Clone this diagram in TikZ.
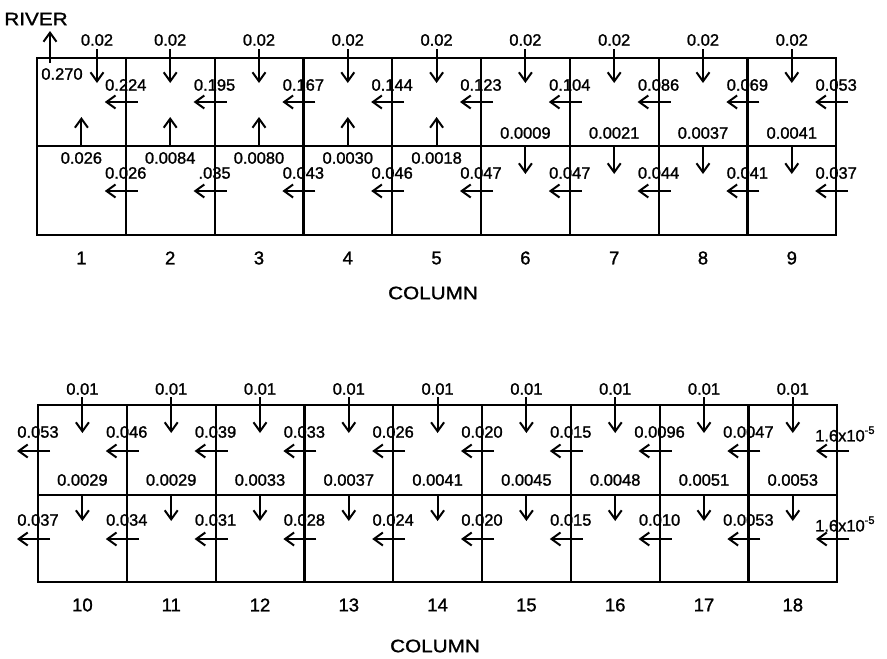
\documentclass[tikz,border=0pt]{standalone}
\usepackage{fontspec}
\setmainfont{Liberation Sans}
\font\numfnt="Liberation Sans:embolden=1.3" at 16.5pt
\font\colfnt="Liberation Sans:embolden=1.3" at 18.5pt
\font\ttlfnt="Liberation Sans:embolden=1.3" at 18pt
\font\supfnt="Liberation Sans:embolden=1.3" at 11pt
\usetikzlibrary{arrows.meta}
\begin{document}
\begin{tikzpicture}[x=1pt,y=-1pt,
  grid/.style={line width=2.2pt},
  flow/.style={line width=2pt,-{Straight Barb[length=9pt,width=13pt,line width=2pt]}},
  lab/.style={font=\numfnt, inner sep=0pt},
  colnum/.style={font=\colfnt, inner sep=0pt},
  ttl/.style={font=\ttlfnt, inner sep=0pt, xscale=1.15}]
\useasboundingbox[fill=white] (0,0) rectangle (887,659);

% ---------------- upper grid (columns 1-9) ----------------
\draw[grid] (37,58) rectangle (836.2,235);
\draw[grid] (37,146) -- (836.2,146);
\foreach \k in {1,...,8} \draw[grid] ({37+\k*88.8},58) -- ({37+\k*88.8},235);

% river
\node[ttl] (river) at (36,19) {RIVER};
\coordinate (rv1) at (50,63);
\coordinate (rv2) at (50,31);
\draw[flow] (rv1) -- (rv2);
\node[lab] (rvl) at (62,74) {0.270};

% recharge arrows top
\coordinate (ua1) at (97,49);
\coordinate (ub1) at (97,83);
\draw[flow] (ua1) -- (ub1);
\node[lab] (ul1) at (97,40) {0.02};
\foreach \c in {2,...,9} {
  \coordinate (ua\c) at ({37+(\c-0.5)*88.8},49);
  \coordinate (ub\c) at ({37+(\c-0.5)*88.8},83);
  \draw[flow] (ua\c) -- (ub\c);
  \node[lab] (ul\c) at ({37+(\c-0.5)*88.8},40) {0.02};
}

% horizontal flows, upper layer
\foreach \k/\v in {1/0.224,2/0.195,3/0.167,4/0.144,5/0.123,6/0.104,7/0.086,8/0.069,9/0.053} {
  \coordinate (ha\k) at ({37+\k*88.8+12},102);
  \coordinate (hb\k) at ({37+\k*88.8-21},102);
  \draw[flow] (ha\k) -- (hb\k);
  \node[lab] (hl\k) at ({37+\k*88.8},85) {\v};
}
% horizontal flows, lower layer
\foreach \k/\v in {1/0.026,2/.035,3/0.043,4/0.046,5/0.047,6/0.047,7/0.044,8/0.041,9/0.037} {
  \coordinate (la\k) at ({37+\k*88.8+12},191);
  \coordinate (lb\k) at ({37+\k*88.8-21},191);
  \draw[flow] (la\k) -- (lb\k);
  \node[lab] (ll\k) at ({37+\k*88.8},173) {\v};
}
% vertical leakage up (cols 1-5)
\foreach \c/\v in {1/0.026,2/0.0084,3/0.0080,4/0.0030,5/0.0018} {
  \coordinate (va\c) at ({37+(\c-0.5)*88.8},147);
  \coordinate (vb\c) at ({37+(\c-0.5)*88.8},117);
  \draw[flow] (va\c) -- (vb\c);
  \node[lab] (vl\c) at ({37+(\c-0.5)*88.8},158) {\v};
}
% vertical leakage down (cols 6-9)
\foreach \c/\v in {6/0.0009,7/0.0021,8/0.0037,9/0.0041} {
  \coordinate (va\c) at ({37+(\c-0.5)*88.8},145);
  \coordinate (vb\c) at ({37+(\c-0.5)*88.8},174);
  \draw[flow] (va\c) -- (vb\c);
  \node[lab] (vl\c) at ({37+(\c-0.5)*88.8},133) {\v};
}
\foreach \c in {1,...,9}
  \node[colnum] (cn\c) at ({37+(\c-0.5)*88.8},258) {\c};
\node[ttl] (col1) at (433,293) {COLUMN};

% ---------------- lower grid (columns 10-18) ----------------
\draw[grid] (38,405) rectangle (837.2,582);
\draw[grid] (38,495) -- (837.2,495);
\foreach \k in {1,...,8} \draw[grid] ({38+\k*88.8},405) -- ({38+\k*88.8},582);

\foreach \c in {1,...,9} {
  \coordinate (da\c) at ({38+(\c-0.5)*88.8},397);
  \coordinate (db\c) at ({38+(\c-0.5)*88.8},433);
  \draw[flow] (da\c) -- (db\c);
  \node[lab] (dl\c) at ({38+(\c-0.5)*88.8},389) {0.01};
}
\foreach \k/\v in {0/0.053,1/0.046,2/0.039,3/0.033,4/0.026,5/0.020,6/0.015,7/0.0096,8/0.0047} {
  \coordinate (pa\k) at ({38+\k*88.8+12},451);
  \coordinate (pb\k) at ({38+\k*88.8-21},451);
  \draw[flow] (pa\k) -- (pb\k);
  \node[lab] (pl\k) at ({38+\k*88.8},432) {\v};
}
\coordinate (pa9) at (849,451);
\coordinate (pb9) at (816,451);
\draw[flow] (pa9) -- (pb9);
\node[lab,anchor=west] (pl9) at (815,434) {1.6x10\raisebox{0.45em}{\supfnt -5}};

\foreach \k/\v in {0/0.037,1/0.034,2/0.031,3/0.028,4/0.024,5/0.020,6/0.015,7/0.010,8/0.0053} {
  \coordinate (qa\k) at ({38+\k*88.8+12},539);
  \coordinate (qb\k) at ({38+\k*88.8-21},539);
  \draw[flow] (qa\k) -- (qb\k);
  \node[lab] (ql\k) at ({38+\k*88.8},520) {\v};
}
\coordinate (qa9) at (849,539);
\coordinate (qb9) at (816,539);
\draw[flow] (qa9) -- (qb9);
\node[lab,anchor=west] (ql9) at (815,524) {1.6x10\raisebox{0.45em}{\supfnt -5}};

\foreach \c/\v in {1/0.0029,2/0.0029,3/0.0033,4/0.0037,5/0.0041,6/0.0045,7/0.0048,8/0.0051,9/0.0053} {
  \coordinate (ma\c) at ({38+(\c-0.5)*88.8},494);
  \coordinate (mb\c) at ({38+(\c-0.5)*88.8},521);
  \draw[flow] (ma\c) -- (mb\c);
  \node[lab] (ml\c) at ({38+(\c-0.5)*88.8},480) {\v};
}
\foreach \c [evaluate=\c as \n using int(\c+9)] in {1,...,9}
  \node[colnum] (cm\c) at ({38+(\c-0.5)*88.8},605) {\n};
\node[ttl] (col2) at (435,646) {COLUMN};
\end{tikzpicture}
\end{document}
